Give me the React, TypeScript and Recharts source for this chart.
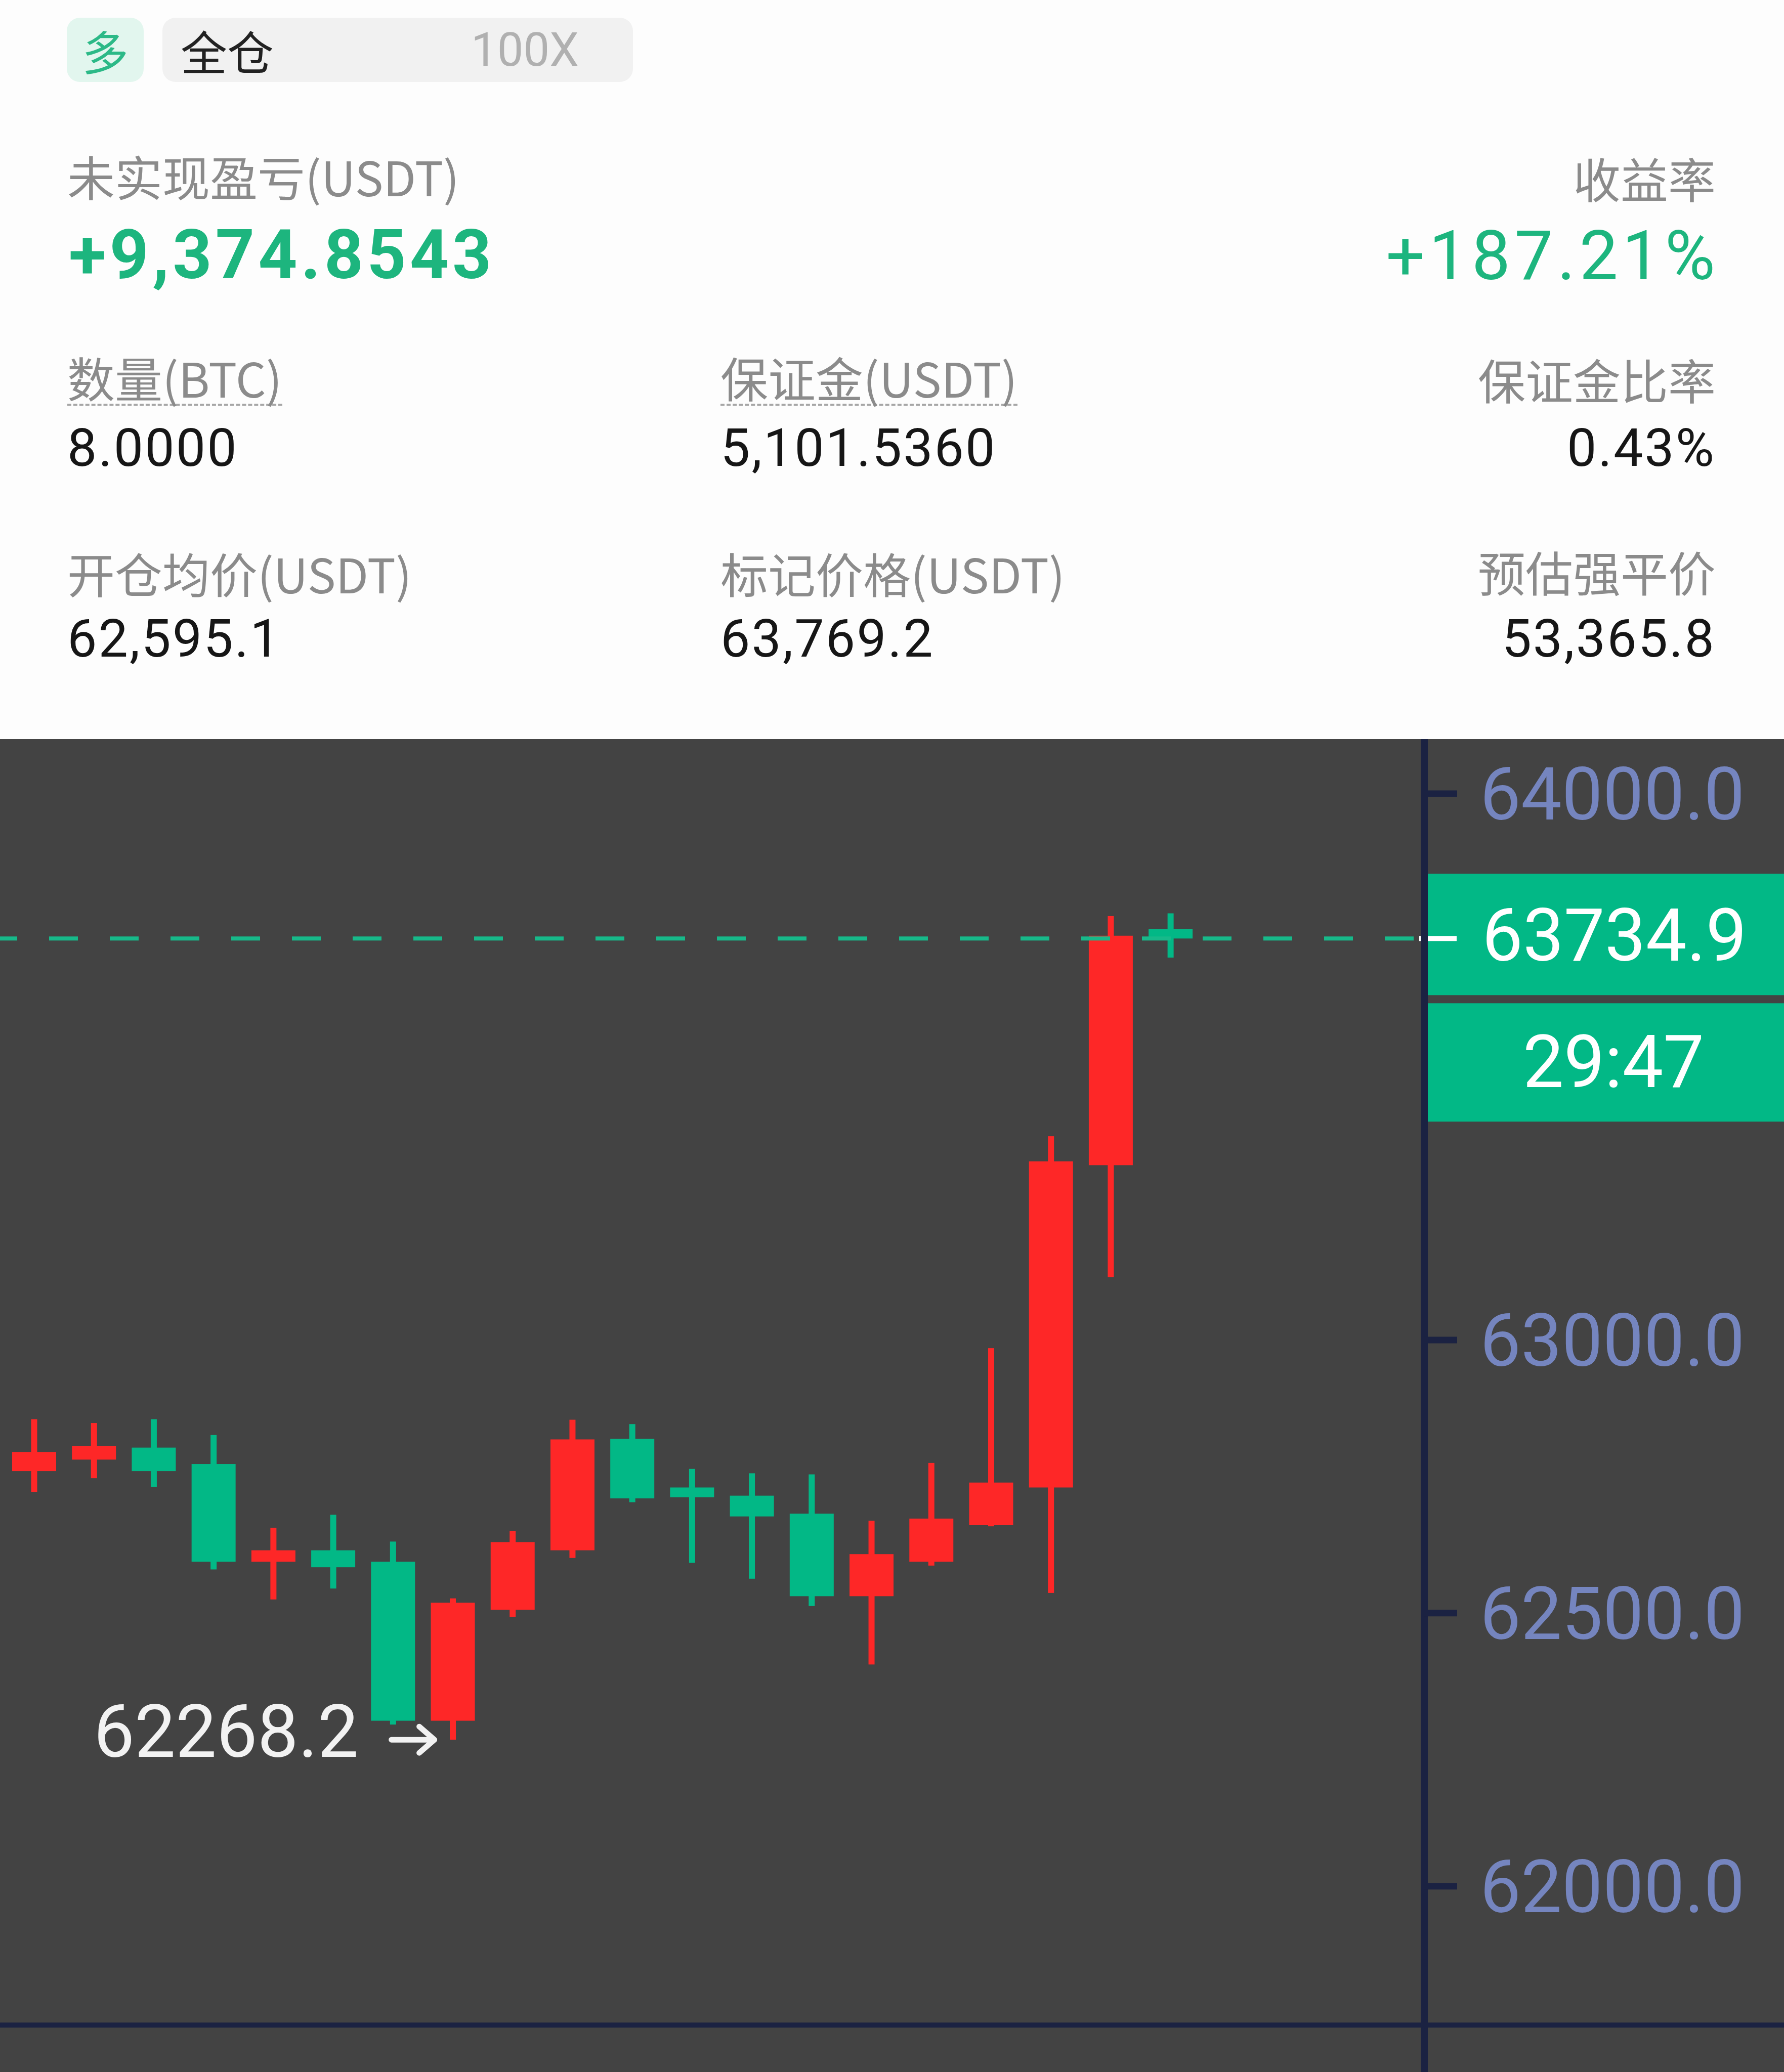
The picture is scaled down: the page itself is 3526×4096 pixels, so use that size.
import { Bar, ComposedChart, ReferenceDot, ReferenceLine, XAxis, YAxis } from 'recharts';

// 30m candles, oldest first; the last one is still open
const slots = ['1', '2', '3', '4', '5', '6', '7', '8', '9', '10', '11', '12', '13', '14', '15', '16', '17', '18', '19', '20', '21', '22', '23'];
const opens = [62760, 62781, 62803, 62773, 62594, 62615, 62594, 62303, 62506, 62615, 62819, 62730, 62715, 62682, 62531, 62594, 62661, 62730, 63320, 63752];
const highs = [62855, 62848, 62855, 62826, 62656, 62680, 62631, 62527, 62650, 62854, 62846, 62764, 62756, 62754, 62669, 62775, 62985, 63373, 63776, 63781];
const lows = [62722, 62747, 62731, 62580, 62525, 62545, 62296, 62268.2, 62493, 62601, 62703, 62592, 62563, 62513, 62406, 62587, 62659, 62537, 63115, 63700];
const closes = [62795, 62806, 62760, 62594, 62615, 62584, 62303, 62519, 62630, 62818, 62710, 62712, 62677, 62531, 62608, 62673, 62739, 63327, 63740, 63734.9];

// 63500 sits under the countdown box, so it is not shown
const priceTicks = [62000, 62500, 63000, 64000];
const lastPrice = 63734.9;
const countdown = '29:47';
const lowMark = 62268.2;
const lowSlot = '8';
const panelFloor = 61746;

const W = 3526;
const H = 4096;
const TOP_H = 1461;
const AXIS_W = 711;

const RED = '#fe2727';
const GREEN = '#02b886';
const BG = '#434343';
const NAVY = '#1b2242';
const TICK_TEXT = '#7585bf';
const CJK = '"Noto Sans CJK SC", "Noto Sans", sans-serif';
const NUM = 'Roboto, "Noto Sans", sans-serif';

const data = slots.map((slot, i) =>
  i < opens.length
    ? { slot, open: opens[i], high: highs[i], low: lows[i], close: closes[i], range: [lows[i], highs[i]] }
    : { slot },
);

function Candle(props: any) {
  const { x, y, width, height, payload } = props;
  if (payload == null || payload.open == null) return null;
  const { open, close, high, low } = payload;
  const color = close >= open ? RED : GREEN;
  const k = height / (high - low);
  const top = y + (high - Math.max(open, close)) * k;
  const bottom = y + (high - Math.min(open, close)) * k;
  const cx = x + width / 2;
  return (
    <g>
      <rect x={cx - 6} y={y} width={12} height={height} fill={color} />
      <rect x={x} y={top} width={width} height={Math.max(bottom - top, 6)} fill={color} />
    </g>
  );
}

function PriceTag(props: any) {
  const vb = props.viewBox;
  const right = vb.x + vb.width;
  const y = vb.y;
  return (
    <g>
      <rect x={right - 7} y={y - 128} width={AXIS_W + 7} height={240} fill={GREEN} />
      <rect x={right - 7} y={y + 128} width={AXIS_W + 7} height={234} fill={GREEN} />
      <line x1={right - 10} x2={right + 64} y1={y} y2={y} stroke="#ffffff" strokeWidth={10} />
      <text x={right + 114} y={y + 44} fill="#ffffff" fontSize={144} fontFamily={NUM}>
        {lastPrice.toFixed(1)}
      </text>
      <text x={right + 374} y={y + 294} fill="#ffffff" fontSize={144} fontFamily={NUM} textAnchor="middle">
        {countdown}
      </text>
    </g>
  );
}

function FloorExtension(props: any) {
  const vb = props.viewBox;
  const right = vb.x + vb.width;
  return <line x1={right} x2={right + AXIS_W} y1={vb.y} y2={vb.y} stroke={NAVY} strokeWidth={10} />;
}

function LowLabel(props: any) {
  const vb = props.viewBox;
  const cx = vb.x + vb.width / 2;
  const cy = vb.y + vb.height / 2;
  return (
    <g>
      <text x={cx - 186} y={cy + 34} fill="#f2f2f2" fontSize={144} fontFamily={NUM} textAnchor="end">
        {lowMark.toFixed(1)}
      </text>
      <path
        d={`M${cx - 121},${cy} L${cx - 38},${cy} M${cx - 66},${cy - 26} L${cx - 36},${cy} L${cx - 66},${cy + 26}`}
        stroke="#f2f2f2"
        strokeWidth={11}
        strokeLinecap="round"
        strokeLinejoin="round"
        fill="none"
      />
    </g>
  );
}

function Label({ text, top, left, right, underline }: { text: string; top: number; left?: number; right?: number; underline?: boolean }) {
  return (
    <div
      style={{
        position: 'absolute',
        top,
        left,
        right,
        fontFamily: CJK,
        fontSize: 94,
        lineHeight: 1,
        color: '#8b8b8b',
        whiteSpace: 'nowrap',
        paddingBottom: underline ? 6 : 0,
        borderBottom: underline ? '4px dashed #a6a6a6' : 'none',
      }}
    >
      {text}
    </div>
  );
}

function Value({ text, top, left, right }: { text: string; top: number; left?: number; right?: number }) {
  return (
    <div
      style={{
        position: 'absolute',
        top,
        left,
        right,
        fontFamily: NUM,
        fontSize: 104,
        lineHeight: 1,
        letterSpacing: 3,
        color: '#161616',
        whiteSpace: 'nowrap',
      }}
    >
      {text}
    </div>
  );
}

function PositionHeader() {
  return (
    <div style={{ position: 'absolute', left: 0, top: 0, width: W, height: TOP_H, background: '#fdfdfd' }}>
      <div
        style={{
          position: 'absolute', left: 132, top: 35, width: 152, height: 127, borderRadius: 26,
          background: '#e2f6ee', color: '#2cb987', fontFamily: CJK, fontSize: 92,
          display: 'flex', alignItems: 'center', justifyContent: 'center',
        }}
      >
        多
      </div>
      <div
        style={{
          position: 'absolute', left: 321, top: 35, width: 930, height: 127, borderRadius: 26,
          background: '#f1f1f1', fontFamily: CJK, fontSize: 92, color: '#222',
          display: 'flex', alignItems: 'center', paddingLeft: 36, boxSizing: 'border-box',
        }}
      >
        全仓
        <span style={{ marginLeft: 390, color: '#b0b0b0', fontFamily: NUM }}>100X</span>
      </div>

      <Label text="未实现盈亏(USDT)" top={300} left={133} />
      <Label text="收益率" top={304} right={135} />
      <div
        style={{
          position: 'absolute', top: 437, left: 136, fontFamily: NUM, fontWeight: 700,
          fontSize: 135, lineHeight: 1, letterSpacing: 7, color: '#1db57e', whiteSpace: 'nowrap',
        }}
      >
        +9,374.8543
      </div>
      <div
        style={{
          position: 'absolute', top: 438, right: 128, fontFamily: NUM, fontWeight: 400,
          fontSize: 136, lineHeight: 1, letterSpacing: 8, color: '#1db57e', whiteSpace: 'nowrap',
        }}
      >
        +187.21%
      </div>

      <Label text="数量(BTC)" top={698} left={133} underline />
      <Label text="保证金(USDT)" top={698} left={1424} underline />
      <Label text="保证金比率" top={702} right={135} />
      <Value text="8.0000" top={834} left={133} />
      <Value text="5,101.5360" top={834} left={1424} />
      <Value text="0.43%" top={834} right={135} />

      <Label text="开仓均价(USDT)" top={1085} left={133} />
      <Label text="标记价格(USDT)" top={1085} left={1424} />
      <Label text="预估强平价" top={1082} right={135} />
      <Value text="62,595.1" top={1211} left={133} />
      <Value text="63,769.2" top={1211} left={1424} />
      <Value text="53,365.8" top={1211} right={135} />
    </div>
  );
}

export default function App() {
  return (
    <div style={{ position: 'absolute', left: 0, top: 0, width: W, height: H, overflow: 'hidden', background: '#fdfdfd' }}>
      <PositionHeader />
      <div style={{ position: 'absolute', left: 0, top: TOP_H, width: W, height: H - TOP_H, background: BG }}>
        <ComposedChart width={W} height={H - TOP_H} data={data} margin={{ top: 0, right: 0, bottom: 0, left: 0 }}>
          <XAxis dataKey="slot" hide padding={{ left: 8, right: 88 }} />
          <YAxis
            orientation="right"
            width={AXIS_W}
            type="number"
            domain={[61660, 64100]}
            allowDataOverflow
            ticks={priceTicks}
            interval={0}
            tickFormatter={(v: number) => v.toFixed(1)}
            axisLine={{ stroke: NAVY, strokeWidth: 14 }}
            tickLine={{ stroke: NAVY, strokeWidth: 13 }}
            tickSize={65}
            tickMargin={45}
            tick={{ fill: TICK_TEXT, fontSize: 144, fontFamily: NUM }}
          />
          <Bar dataKey="range" barSize={87} isAnimationActive={false} shape={(p: any) => <Candle {...p} />} />
          <ReferenceLine y={panelFloor} stroke={NAVY} strokeWidth={10} label={(p: any) => <FloorExtension {...p} />} />
          <ReferenceLine
            y={lastPrice}
            stroke="#17b98a"
            strokeWidth={8}
            strokeDasharray="57 63"
            strokeDashoffset={-21}
            label={(p: any) => <PriceTag {...p} />}
          />
          <ReferenceDot
            x={lowSlot}
            y={lowMark}
            r={1}
            fill="none"
            stroke="none"
            label={(p: any) => <LowLabel {...p} />}
          />
        </ComposedChart>
      </div>
    </div>
  );
}
